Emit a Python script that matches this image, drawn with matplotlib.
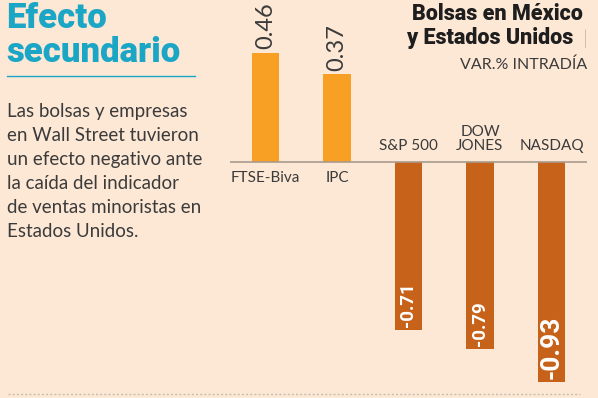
import matplotlib
matplotlib.use("Agg")
import matplotlib.pyplot as plt

# data
categories = ["FTSE-Biva", "IPC", "S&P 500", "DOW\nJONES", "NASDAQ"]
values = [0.46, 0.37, -0.71, -0.79, -0.93]
value_labels = ["0.46", "0.37", "-0.71", "-0.79", "-0.93"]

bg = "#fde8d6"
orange = "#f7a023"
dark_orange = "#c6621a"
teal = "#1ba6c6"
text_c = "#3b3b3b"

plt.rcParams["font.family"] = ["Lato", "DejaVu Sans"]
heavy = ["Roboto", "DejaVu Sans"]

W, H = 598, 398
fig = plt.figure(figsize=(W / 100, H / 100), dpi=100, facecolor=bg)


def fx(px):
    return px / W


def fy(py):
    return 1 - py / H


# chart axes over whole figure, scaled so bars land in the right place
ax = fig.add_axes([0, 0, 1, 1])
ax.set_facecolor("none")
ax.set_xlim(-265.5 / 71.5, (W - 265.5) / 71.5)
ax.set_ylim(-(H - 162) / 237, 162 / 237)
ax.axis("off")

x = list(range(len(values)))
colors = [orange if v > 0 else dark_orange for v in values]
ax.bar(x, values, width=0.38, color=colors, zorder=2)
ax.hlines(0, -0.5, 4.5, color="#a89a8c", lw=1.2, zorder=3)

for i, v in enumerate(values):
    if v > 0:
        ax.text(i, v + 0.015, value_labels[i], rotation=90, ha="center", va="bottom",
                fontsize=17, fontweight="normal", color=text_c)
        ax.text(i, -0.04, categories[i], ha="center", va="top",
                fontsize=11, fontweight="normal", color=text_c)
    else:
        big = i == len(values) - 1
        ax.text(i, v + 0.015, value_labels[i], rotation=90, ha="center", va="bottom",
                fontsize=19 if big else 13.5, fontweight="bold", color="white", zorder=4,
                family=heavy)
        ax.text(i, 0.04, categories[i], ha="center", va="bottom",
                fontsize=11, fontweight="normal", color=text_c, linespacing=1.0)

# left title block
fig.text(fx(6), fy(28), "Efecto", fontsize=25, fontweight="black", color=teal,
         ha="left", va="baseline", family=heavy)
fig.text(fx(6), fy(62), "secundario", fontsize=25, fontweight="black", color=teal,
         ha="left", va="baseline", family=heavy)
fig.add_artist(plt.Line2D([fx(7), fx(195)], [fy(76), fy(76)], color=teal, lw=1))

body = ["Las bolsas y empresas", "en Wall Street tuvieron", "un efecto negativo ante",
        "la caída del indicador", "de ventas minoristas en", "Estados Unidos."]
for k, line in enumerate(body):
    fig.text(fx(7), fy(117 + 24 * k), line, fontsize=13.5, fontweight="normal",
             color=text_c, ha="left", va="baseline")

# right header
fig.text(fx(583), fy(20), "Bolsas en México", fontsize=15.5, fontweight="black",
         color="#1e1e1e", ha="right", va="baseline", family=heavy)
fig.text(fx(573), fy(44), "y Estados Unidos", fontsize=15.5, fontweight="black",
         color="#1e1e1e", ha="right", va="baseline", family=heavy)
fig.text(fx(587), fy(44), "|", fontsize=14, fontweight="light",
         color=text_c, ha="right", va="baseline")
fig.text(fx(587), fy(69), "VAR.% INTRADÍA", fontsize=11.5, fontweight="normal",
         color=text_c, ha="right", va="baseline")

# dotted bottom rule
fig.add_artist(plt.Line2D([fx(8), fx(580)], [fy(394), fy(394)], color="#c8bcb0",
                          lw=1, linestyle=(0, (1.5, 1.5))))

fig.savefig("out.png", dpi=100, facecolor=bg)
